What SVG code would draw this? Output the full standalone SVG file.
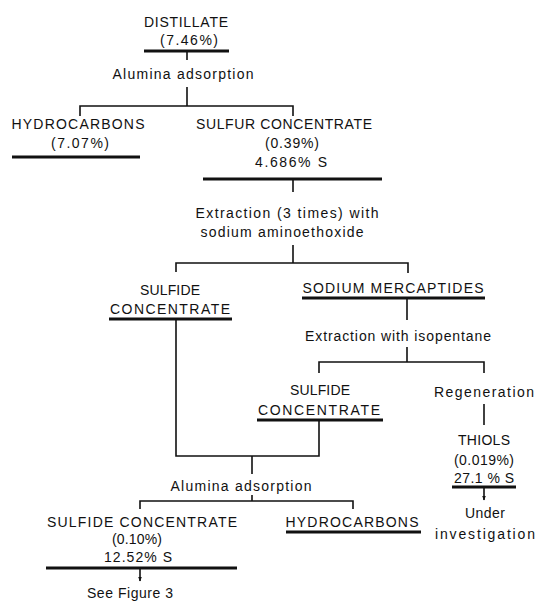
<svg xmlns="http://www.w3.org/2000/svg" width="535" height="603" viewBox="0 0 535 603">
<style>
.t{font-family:"Liberation Sans",Arial,sans-serif;font-size:14px;fill:#111;text-anchor:middle}
.ul{stroke:#111;stroke-width:2.8;fill:none}
.c{stroke:#111;stroke-width:1.6;fill:none}
</style>
<defs>
<marker id="ah" viewBox="0 0 10 10" refX="9" refY="5" markerWidth="5" markerHeight="5" orient="auto" markerUnits="userSpaceOnUse">
<path d="M0,1 L10,5 L0,9 Z" fill="#111"/>
</marker>
</defs>
<rect width="535" height="603" fill="#fff"/>
<g id="connectors">
<path class="c" d="M187,51 V60 M187,87 V106 M80,116 V106 H293 V116"/>
<path class="c" d="M293,179 V192 M293,245 V263 M176,272 V263 H408 V273"/>
<path class="c" d="M407,298 V320 M407,347 V362 M319,373 V362 H484 V373"/>
<path class="c" d="M484,404 V425"/>
<path class="c" d="M176,320 V456 H319 V420 M252,456 V474 M252,495 V501 M140,509 V501 H353 V509"/>
<path class="c" d="M484,488 V500" marker-end="url(#ah)"/>
<path class="c" d="M140,569 V581" marker-end="url(#ah)"/>
</g>
<g id="distillate">
<text class="t" x="186" y="27" textLength="84" lengthAdjust="spacing">DISTILLATE</text>
<text class="t" x="189" y="45" textLength="58" lengthAdjust="spacing">(7.46%)</text>
<line class="ul" x1="144" y1="51" x2="229" y2="51"/>
</g>
<g id="step1"><text class="t" x="183" y="79" textLength="141" lengthAdjust="spacing">Alumina adsorption</text></g>
<g id="hydrocarbons1">
<text class="t" x="78" y="129" textLength="133" lengthAdjust="spacing">HYDROCARBONS</text>
<text class="t" x="80" y="148" textLength="58" lengthAdjust="spacing">(7.07%)</text>
<line class="ul" x1="12" y1="157" x2="140" y2="157"/>
</g>
<g id="sulfurconc">
<text class="t" x="284" y="129" textLength="176" lengthAdjust="spacing">SULFUR CONCENTRATE</text>
<text class="t" x="292" y="148" textLength="54" lengthAdjust="spacing">(0.39%)</text>
<text class="t" x="291" y="167" textLength="72" lengthAdjust="spacing">4.686% S</text>
<line class="ul" x1="203" y1="179" x2="382" y2="179"/>
</g>
<g id="step2">
<text class="t" x="287" y="218" textLength="183" lengthAdjust="spacing">Extraction (3 times) with</text>
<text class="t" x="282" y="237" textLength="163" lengthAdjust="spacing">sodium aminoethoxide</text>
</g>
<g id="sulfide1">
<text class="t" x="170" y="295" textLength="60" lengthAdjust="spacing">SULFIDE</text>
<text class="t" x="170" y="314" textLength="120" lengthAdjust="spacing">CONCENTRATE</text>
<line class="ul" x1="109" y1="319" x2="232" y2="319"/>
</g>
<g id="mercaptides">
<text class="t" x="393" y="293" textLength="181" lengthAdjust="spacing">SODIUM MERCAPTIDES</text>
<line class="ul" x1="302" y1="298" x2="485" y2="298"/>
</g>
<g id="step3"><text class="t" x="398" y="341" textLength="186" lengthAdjust="spacing">Extraction with isopentane</text></g>
<g id="sulfide2">
<text class="t" x="320" y="395" textLength="60" lengthAdjust="spacing">SULFIDE</text>
<text class="t" x="319" y="415" textLength="122" lengthAdjust="spacing">CONCENTRATE</text>
<line class="ul" x1="257" y1="420" x2="383" y2="420"/>
</g>
<g id="step4"><text class="t" x="484" y="397" textLength="100" lengthAdjust="spacing">Regeneration</text></g>
<g id="thiols">
<text class="t" x="484" y="445" textLength="52" lengthAdjust="spacing">THIOLS</text>
<text class="t" x="484" y="465" textLength="60" lengthAdjust="spacing">(0.019%)</text>
<text class="t" x="484" y="483" textLength="60" lengthAdjust="spacing">27.1 % S</text>
<line class="ul" x1="452" y1="487" x2="516" y2="487"/>
</g>
<g id="investigation">
<text class="t" x="485" y="518" textLength="40" lengthAdjust="spacing">Under</text>
<text class="t" x="485" y="539" textLength="100" lengthAdjust="spacing">investigation</text>
</g>
<g id="step5"><text class="t" x="241" y="491" textLength="141" lengthAdjust="spacing">Alumina adsorption</text></g>
<g id="sulfide3">
<text class="t" x="142" y="527" textLength="190" lengthAdjust="spacing">SULFIDE CONCENTRATE</text>
<text class="t" x="137" y="544" textLength="50" lengthAdjust="spacing">(0.10%)</text>
<text class="t" x="138" y="562" textLength="68" lengthAdjust="spacing">12.52% S</text>
<line class="ul" x1="46" y1="568" x2="237" y2="568"/>
</g>
<g id="hydrocarbons2">
<text class="t" x="352" y="527" textLength="133" lengthAdjust="spacing">HYDROCARBONS</text>
<line class="ul" x1="286" y1="532" x2="421" y2="532"/>
</g>
<g id="figure3"><text class="t" x="130" y="598" textLength="86" lengthAdjust="spacing">See Figure 3</text></g>
</svg>
